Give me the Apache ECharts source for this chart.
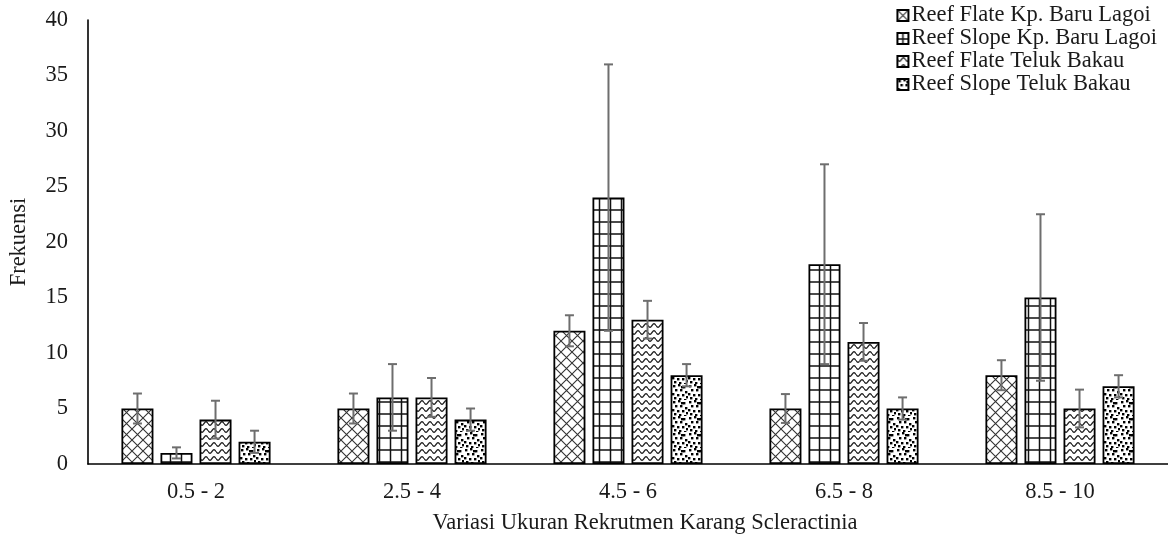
<!DOCTYPE html>
<html>
<head>
<meta charset="utf-8">
<title>Frekuensi Rekrutmen Karang Scleractinia</title>
<script src="https://cdn.jsdelivr.net/npm/echarts@6/dist/echarts.min.js"></script>
<style>
  html, body { margin: 0; padding: 0; background: #fff; }
  #chart { width: 1168px; height: 541px; }
</style>
</head>
<body>
<div id="chart"></div>
<script>
// Size classes (cm) of Scleractinia coral recruits
const categories = ['0.5 - 2', '2.5 - 4', '4.5 - 6', '6.5 - 8', '8.5 - 10'];
const seriesNames = [
  'Reef Flate Kp. Baru Lagoi',
  'Reef Slope Kp. Baru Lagoi',
  'Reef Flate Teluk Bakau',
  'Reef Slope Teluk Bakau'
];
const yTicks = [0, 5, 10, 15, 20, 25, 30, 35, 40];

// Mean frequency per size class
const flateBaru  = [5, 5, 12, 5, 8];
const slopeBaru  = [1, 6, 24, 18, 15];
const flateBakau = [4, 6, 13, 11, 5];
const slopeBakau = [2, 4, 8, 5, 7];

// Standard deviation per size class
const errFlateBaru  = [1.35, 1.35, 1.4, 1.3, 1.35];
const errSlopeBaru  = [0.5, 3, 12, 9, 7.5];
const errFlateBakau = [1.7, 1.75, 1.7, 1.7, 1.7];
const errSlopeBakau = [1.0, 1.0, 1.0, 1.0, 1.0];

const values = [flateBaru, slopeBaru, flateBakau, slopeBakau];
const errors = [errFlateBaru, errSlopeBaru, errFlateBakau, errSlopeBakau];

const FONT = 'Liberation Serif';
const FS = 22.5;
const TEXT = '#1a1a1a';
const BAR_W = 32;
const BAR_GAP = 0.22;

// --- fill patterns -------------------------------------------------------
function tile(w, h, draw) {
  const c = document.createElement('canvas');
  c.width = w; c.height = h;
  const g = c.getContext('2d');
  g.fillStyle = '#fff';
  g.fillRect(0, 0, w, h);
  draw(g, w, h);
  return c;
}

// diagonal lattice
const latticeTile = tile(11, 11, (g, w, h) => {
  g.strokeStyle = '#333';
  g.lineWidth = 1.1;
  g.beginPath();
  g.moveTo(0, 0); g.lineTo(w, h);
  g.moveTo(w, 0); g.lineTo(0, h);
  g.stroke();
});

// large grid
const gridTile = tile(11, 12, (g, w, h) => {
  g.strokeStyle = '#111';
  g.lineWidth = 1.5;
  g.beginPath();
  g.moveTo(5.5, 0); g.lineTo(5.5, h);
  g.moveTo(0, 6); g.lineTo(w, 6);
  g.stroke();
});

// horizontal waves
const waveTile = tile(8, 7, (g, w, h) => {
  g.strokeStyle = '#222';
  g.lineWidth = 1.3;
  g.beginPath();
  for (let x = 0; x <= w; x += 0.5) {
    const y = 3.5 + 1.8 * Math.sin((x / w) * Math.PI * 2);
    if (x === 0) g.moveTo(x, y); else g.lineTo(x, y);
  }
  g.stroke();
});

// confetti
const confettiTile = tile(16, 16, (g) => {
  g.fillStyle = '#000';
  const dots = [
    [1, 1], [6, 0], [11, 2], [3, 5], [8, 5], [13, 7],
    [0, 9], [5, 10], [10, 10], [14, 12], [2, 13], [7, 14],
    [12, 15], [9, 2]
  ];
  dots.forEach(([x, y]) => g.fillRect(x, y, 2.4, 2.4));
});

const patterns = [latticeTile, gridTile, waveTile, confettiTile];

// --- series --------------------------------------------------------------
const barSeries = values.map((vals, i) => ({
  name: seriesNames[i],
  type: 'bar',
  data: vals,
  barWidth: BAR_W,
  barGap: (BAR_GAP * 100) + '%',
  itemStyle: {
    color: { image: patterns[i], repeat: 'repeat' },
    borderColor: '#000',
    borderWidth: 1.8
  },
  emphasis: { disabled: true },
  z: 2
}));

function errorSeries(i) {
  const offset = (i - 1.5) * BAR_W * (1 + BAR_GAP);
  return {
    type: 'custom',
    name: seriesNames[i] + ' SD',
    data: categories.map((c, k) => [k, values[i][k], errors[i][k]]),
    encode: { x: 0, y: 1 },
    z: 5,
    silent: true,
    renderItem(params, api) {
      const k = api.value(0);
      const v = api.value(1);
      const e = api.value(2);
      const x = api.coord([k, v])[0] + offset;
      const top = api.coord([k, v + e])[1];
      const bot = api.coord([k, Math.max(0, v - e)])[1];
      const cap = 4.5;
      const style = { stroke: '#6e6e6e', lineWidth: 2 };
      return {
        type: 'group',
        children: [
          { type: 'line', shape: { x1: x, y1: top, x2: x, y2: bot }, style },
          { type: 'line', shape: { x1: x - cap, y1: top, x2: x + cap, y2: top }, style },
          { type: 'line', shape: { x1: x - cap, y1: bot, x2: x + cap, y2: bot }, style }
        ]
      };
    }
  };
}

const chart = echarts.init(document.getElementById('chart'), null, { renderer: 'canvas' });

chart.setOption({
  animation: false,
  backgroundColor: '#fff',
  textStyle: { fontFamily: FONT, color: TEXT },
  grid: { left: 86, right: 0, top: 20, bottom: 77, containLabel: false },
  legend: {
    data: seriesNames,
    orient: 'vertical',
    right: 6,
    top: -1,
    itemWidth: 11,
    itemHeight: 11,
    itemGap: 0,
    icon: 'rect',
    textStyle: { fontFamily: FONT, fontSize: FS, color: TEXT, padding: [0, 0, 0, -2], lineHeight: 22.3 }
  },
  xAxis: {
    type: 'category',
    data: categories,
    name: 'Variasi Ukuran Rekrutmen Karang Scleractinia',
    nameLocation: 'middle',
    nameGap: 48,
    nameTextStyle: { fontFamily: FONT, fontSize: FS, color: TEXT, padding: [0, 0, 0, 34] },
    axisLine: { lineStyle: { color: '#000', width: 1.6 } },
    axisTick: { show: false },
    axisLabel: { fontFamily: FONT, fontSize: FS, color: TEXT, margin: 17 }
  },
  yAxis: {
    type: 'value',
    min: yTicks[0],
    max: yTicks[yTicks.length - 1],
    interval: yTicks[1] - yTicks[0],
    name: 'Frekuensi',
    nameLocation: 'middle',
    nameGap: 57,
    nameTextStyle: { fontFamily: FONT, fontSize: FS, color: TEXT },
    axisLine: { show: true, lineStyle: { color: '#000', width: 1.6 } },
    axisTick: { show: false },
    splitLine: { show: false },
    axisLabel: { fontFamily: FONT, fontSize: FS, color: TEXT, margin: 20 }
  },
  series: barSeries.concat([0, 1, 2, 3].map(errorSeries))
});
</script>
</body>
</html>
